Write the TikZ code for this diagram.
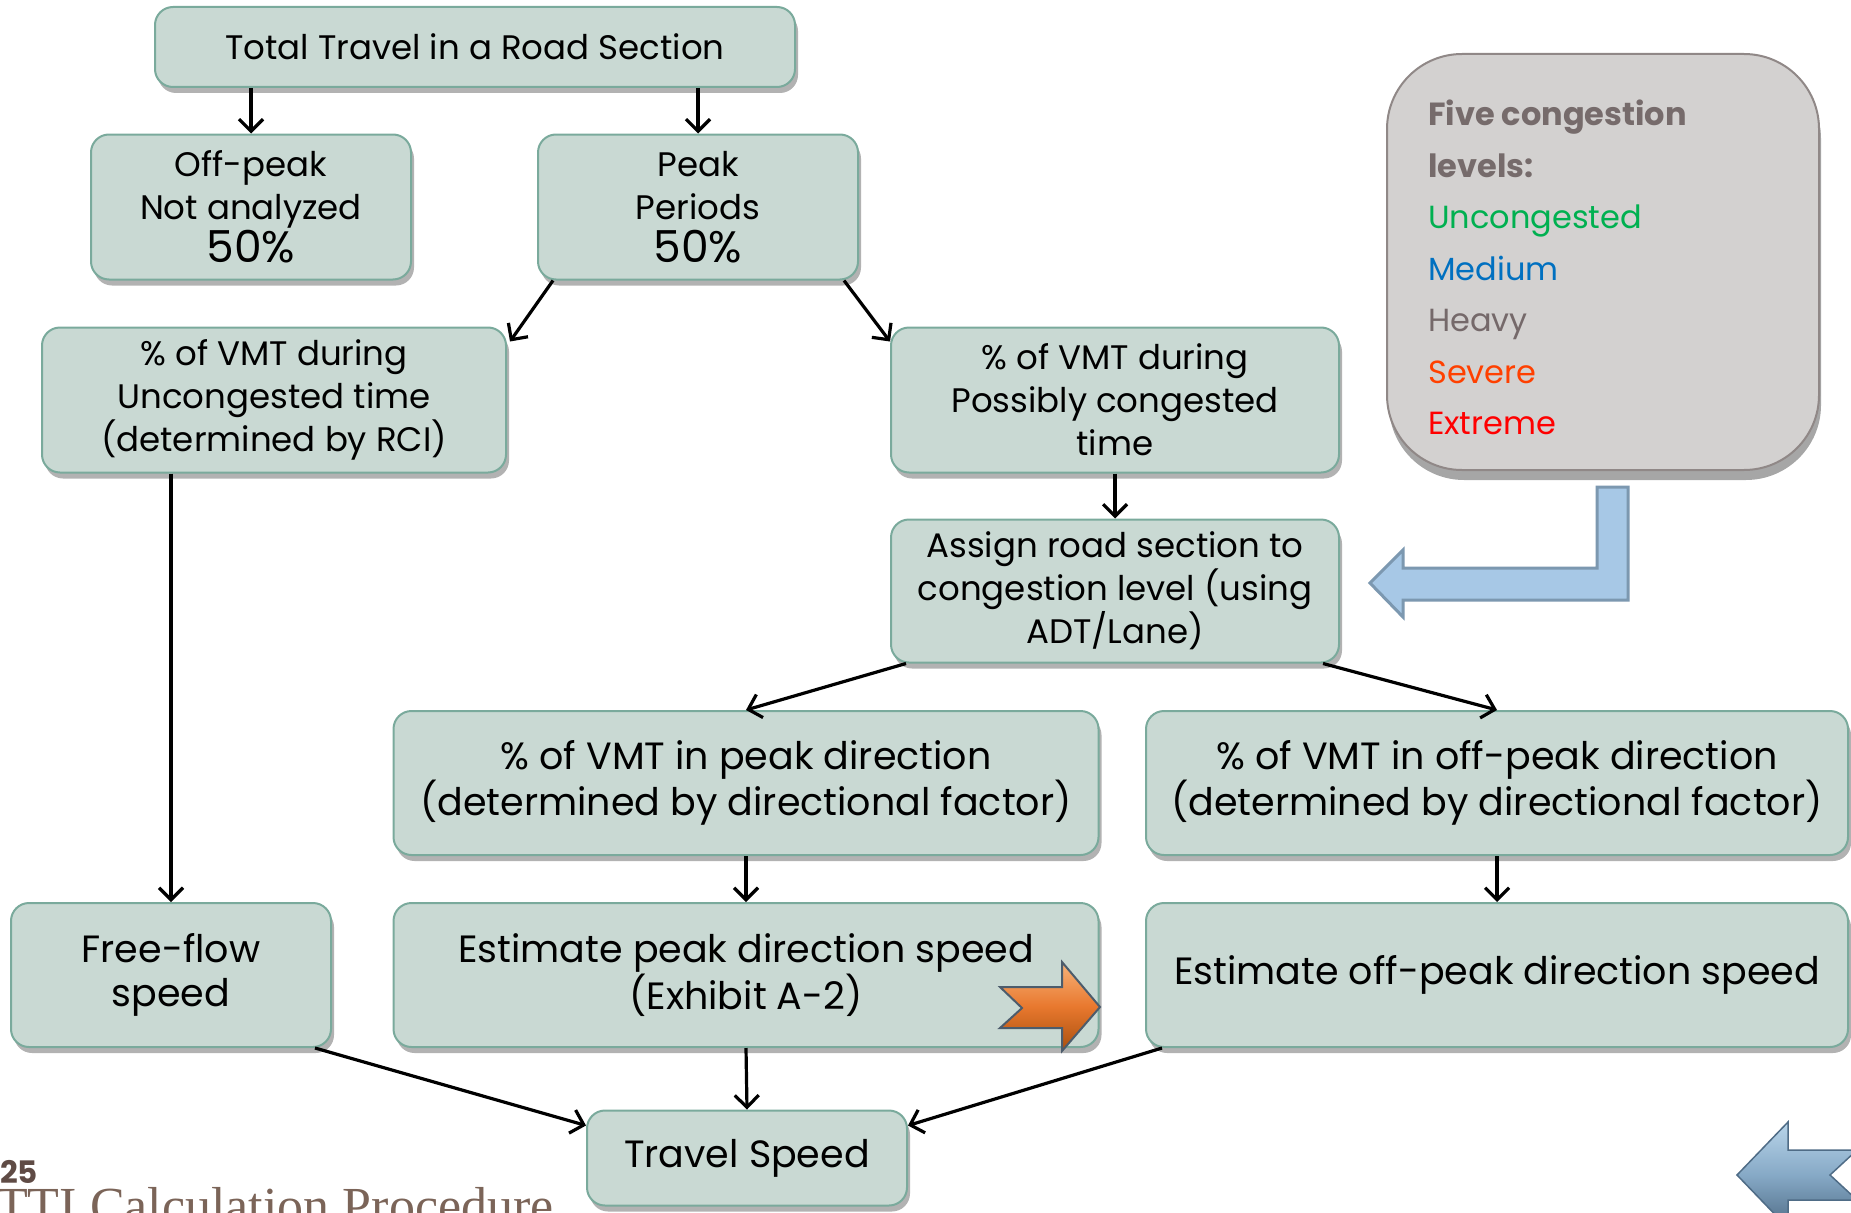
\documentclass[tikz,border=0pt]{standalone}
\usepackage{fontspec}
\setmainfont{Poppins}
\newfontfamily\ttiserif{Liberation Serif}
\usetikzlibrary{arrows.meta,shadows,calc}
\definecolor{boxfill}{HTML}{C9D9D3}
\definecolor{boxline}{HTML}{7AAA9C}
\definecolor{grayfill}{HTML}{D3D1D0}
\definecolor{grayline}{HTML}{908887}
\definecolor{titlegray}{HTML}{766B6B}
\definecolor{cgreen}{HTML}{00B050}
\definecolor{cblue}{HTML}{0070C0}
\definecolor{cheavy}{HTML}{75696A}
\definecolor{csevere}{HTML}{FF4000}
\definecolor{cextreme}{HTML}{FF0000}
\definecolor{bluefill}{HTML}{A7C8E6}
\definecolor{blueline}{HTML}{7C98B0}
\definecolor{ttibrown}{HTML}{7B6458}
\definecolor{numbrown}{HTML}{5F4B45}
\definecolor{orA}{HTML}{F7B37A}
\definecolor{orB}{HTML}{E8782E}
\definecolor{orC}{HTML}{A9500F}
\definecolor{oredge}{HTML}{4C5C6C}
\definecolor{stA}{HTML}{B9D5EA}
\definecolor{stB}{HTML}{86A9C6}
\definecolor{stC}{HTML}{4F6C86}
\tikzset{
  flowbox/.style={rounded corners=18pt, fill=boxfill, draw=boxline, line width=2pt,
    align=center, inner sep=0pt,
    drop shadow={shadow xshift=3pt, shadow yshift=-6pt, fill=black, opacity=0.3}},
  upper/.style={font=\fontsize{34}{43}\selectfont},
  lower/.style={font=\fontsize{38}{44}\selectfont},
  ar/.style={line width=3.2pt, -{Straight Barb[length=12pt,width=24pt]}},
}
\begin{document}
\begin{tikzpicture}[x=1pt,y=-1pt]
\useasboundingbox (0,0) rectangle (1851,1212);
\clip (0,0) rectangle (1851,1212);
\fill[white] (0,0) rectangle (1851,1212);

% gray legend box
\node[rounded corners=75pt, fill=grayfill, draw=grayline, line width=2pt,
  minimum width=432pt, minimum height=416pt, inner sep=0pt,
  drop shadow={shadow xshift=2pt, shadow yshift=-10pt, fill=black, opacity=0.35}]
  (legbox) at (1603,262) {};
\node[anchor=north west, align=left, inner sep=0pt,
  font=\fontsize{32}{51.5}\selectfont] (leg) at (1428,100)
  {\textcolor{titlegray}{\bfseries Five congestion}\\
   \textcolor{titlegray}{\bfseries levels:}\\
   \textcolor{cgreen}{Uncongested}\\
   \textcolor{cblue}{Medium}\\
   \textcolor{cheavy}{Heavy}\\
   \textcolor{csevere}{Severe}\\
   \textcolor{cextreme}{Extreme}};

% blue bent arrow
\draw[fill=bluefill, draw=blueline, line width=3pt, line join=miter]
  (1628,487) -- (1628,600) -- (1403,600) -- (1403,617) -- (1370,583)
  -- (1403,550) -- (1403,568) -- (1597,568) -- (1597,487) -- cycle;

% flow boxes
\node[flowbox, upper, minimum width=640pt, minimum height=80pt] (tot) at (475,47)
  {Total Travel in a Road Section};
\node[flowbox, upper, minimum width=320pt, minimum height=145pt] (off) at (251,207)
  {Off-peak\\Not analyzed\\{\fontsize{44}{43}\selectfont 50\%}};
\node[flowbox, upper, minimum width=320pt, minimum height=145pt] (peak) at (698,207)
  {Peak\\Periods\\{\fontsize{44}{43}\selectfont 50\%}};
\node[flowbox, upper, minimum width=464pt, minimum height=145pt] (vmtU) at (274,400)
  {\% of VMT during\\Uncongested time\\(determined by RCI)};
\node[flowbox, upper, minimum width=448pt, minimum height=145pt] (vmtP) at (1115,400)
  {\% of VMT during\\Possibly congested\\time};
\node[flowbox, upper, minimum width=448pt, minimum height=143pt] (assign) at (1115,591)
  {Assign road section to\\congestion level (using\\ADT/Lane)};
\node[flowbox, lower, minimum width=705pt, minimum height=144pt] (peakdir) at (746,783)
  {\% of VMT in peak direction\\(determined by directional factor)};
\node[flowbox, lower, minimum width=702pt, minimum height=144pt] (offdir) at (1497,783)
  {\% of VMT in off-peak direction\\(determined by directional factor)};
\node[flowbox, lower, minimum width=320pt, minimum height=144pt] (free) at (171,975)
  {Free-flow\\speed};
\node[flowbox, lower, minimum width=705pt, minimum height=144pt] (estpeak) at (746,975)
  {Estimate peak direction speed\\(Exhibit A-2)};
\node[flowbox, lower, minimum width=702pt, minimum height=144pt] (estoff) at (1497,975)
  {Estimate off-peak direction speed};
\node[flowbox, lower, minimum width=320pt, minimum height=95pt] (travel) at (747,1158)
  {Travel Speed};

% connectors
\draw[ar] (tot.south -| off.north) -- (off.north);
\draw[ar] (tot.south -| peak.north) -- (peak.north);
\draw[ar] ($(peak.south west)+(16,0)$) -- ($(vmtU.north east)+(3,15)$);
\draw[ar] ($(peak.south east)+(-15,0)$) -- ($(vmtP.north west)+(0,15)$);
\draw[ar] (vmtP.south) -- (assign.north);
\draw[ar] ($(assign.south west)+(16,0)$) -- (peakdir.north);
\draw[ar] ($(assign.south east)+(-17,0)$) -- (offdir.north);
\draw[ar] (peakdir.south) -- (estpeak.north);
\draw[ar] (offdir.south) -- (estoff.north);
\draw[ar] (vmtU.south -| free.north) -- (free.north);
\draw[ar] ($(free.south east)+(-17,0)$) -- ($(travel.north west)+(0,16)$);
\draw[ar] (estpeak.south) -- (travel.north);
\draw[ar] ($(estoff.south west)+(17,0)$) -- ($(travel.north east)+(0,16)$);

% orange arrow
\draw[draw=oredge, line width=2pt, line join=miter,
  top color=orA, bottom color=orC, middle color=orB]
  (1000,987) -- (1062,987) -- (1062,962) -- (1100,1007) -- (1062,1051)
  -- (1062,1028) -- (1000,1028) -- (1022,1008) -- cycle;

% bottom-right steel arrow
\draw[draw=stC, line width=1.5pt, line join=miter,
  top color=stA, bottom color=stC, middle color=stB]
  (1857,1150) -- (1788,1150) -- (1788,1122) -- (1737,1175) -- (1788,1228)
  -- (1788,1200) -- (1857,1200) -- (1830,1175) -- cycle;

% footer texts
\node[anchor=base west, inner sep=0pt, text=numbrown,
  font=\fontsize{31}{34}\selectfont\bfseries] (pnum) at (0,1183) {25};
\node[anchor=base west, inner sep=0pt, text=ttibrown,
  font=\ttiserif\fontsize{52}{60}\selectfont] (ttl) at (-4,1223) {TTI Calculation Procedure};
\end{tikzpicture}
\end{document}
